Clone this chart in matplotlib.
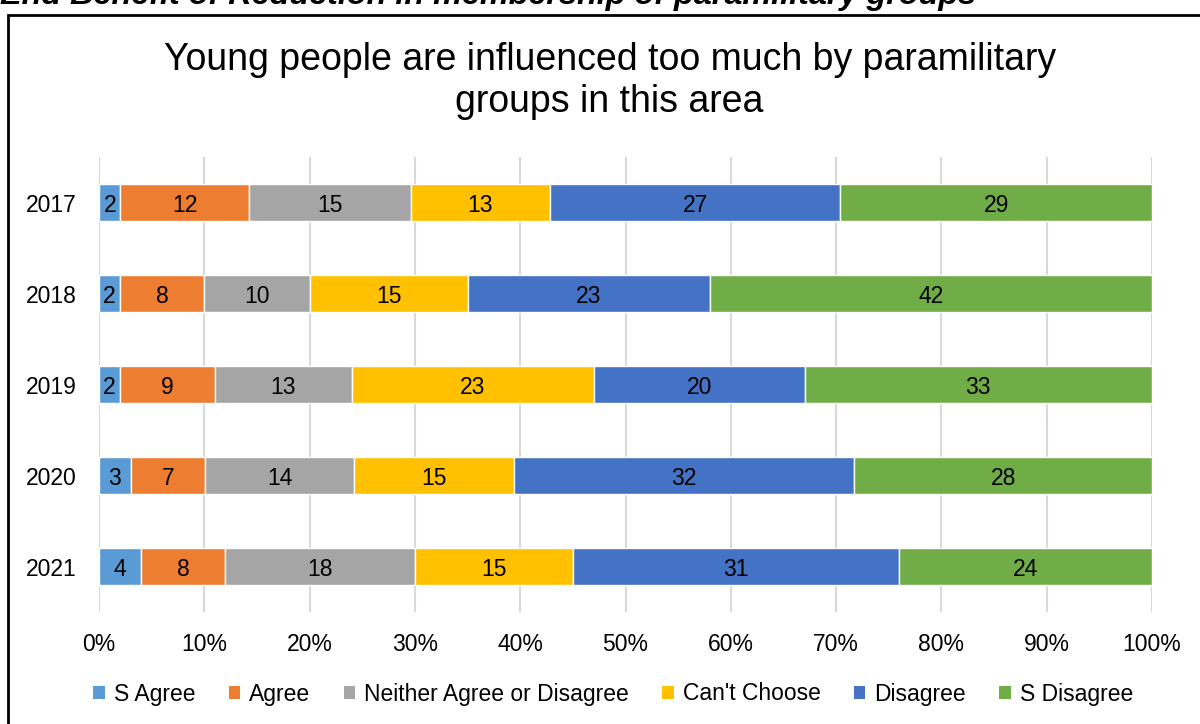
import numpy as np
import matplotlib.pyplot as plt
from matplotlib.patches import Patch, Rectangle

plt.rcParams['font.family'] = ['Liberation Sans', 'DejaVu Sans']

years = ['2017', '2018', '2019', '2020', '2021']
categories = ['S Agree', 'Agree', 'Neither Agree or Disagree', "Can't Choose", 'Disagree', 'S Disagree']
colors = ['#5B9BD5', '#ED7D31', '#A5A5A5', '#FFC000', '#4472C4', '#70AD47']

s_agree = [2, 2, 2, 3, 4]
agree = [12, 8, 9, 7, 8]
neither = [15, 10, 13, 14, 18]
cant_choose = [13, 15, 23, 15, 15]
disagree = [27, 23, 20, 32, 31]
s_disagree = [29, 42, 33, 28, 24]

series = [s_agree, agree, neither, cant_choose, disagree, s_disagree]
vals = np.array(series, dtype=float)
totals = vals.sum(axis=0)
shares = vals / totals

fig = plt.figure(figsize=(12, 7.24), dpi=100)
ax = fig.add_axes([0.0825, 0.1547, 0.8775, 0.6284])

y = np.arange(len(years))
left = np.zeros(len(years))
for i, cat in enumerate(categories):
    ax.barh(y, shares[i], left=left, height=0.4, color=colors[i],
            edgecolor='white', linewidth=1, label=cat, zorder=3)
    for j in range(len(years)):
        ax.text(left[j] + shares[i][j] / 2, y[j], str(series[i][j]),
                ha='center', va='center_baseline', fontsize=16.5, color='black', zorder=4)
    left += shares[i]

ax.set_xlim(0, 1)
ax.set_ylim(len(years) - 0.5, -0.5)
ax.set_xticks(np.arange(0, 1.01, 0.1))
ax.set_xticklabels([f'{int(round(t * 100))}%' for t in np.arange(0, 1.01, 0.1)], fontsize=16.5)
ax.set_yticks(y)
ax.set_yticklabels(years, fontsize=16.5)
ax.tick_params(axis='both', length=0)
ax.tick_params(axis='x', pad=15)
ax.tick_params(axis='y', pad=16)
ax.grid(axis='x', color='#D9D9D9', linewidth=1.5, zorder=0)
ax.set_axisbelow(True)
for sp in ax.spines.values():
    sp.set_visible(False)

# outer chart frame (cut by image edges)
fig.patches.append(Rectangle((8 / 1200, -0.1), 1.2, 1 - 15 / 724 + 0.1,
                             transform=fig.transFigure, fill=False,
                             edgecolor='black', linewidth=2))

fig.text(0.508, 1 - 81 / 724, 'Young people are influenced too much by paramilitary\ngroups in this area',
         ha='center', va='center', fontsize=27, linespacing=1.25)

fig.text(0.0, 1 - 4 / 724, 'End Benefit of Reduction in membership of paramilitary groups',
         ha='left', va='baseline', fontsize=23.3, fontweight='bold', fontstyle='italic')

handles = [Patch(facecolor=c, edgecolor='none') for c in colors]
fig.legend(handles, categories, loc='center', bbox_to_anchor=(0.511, 1 - 694 / 724),
           ncol=6, frameon=False, fontsize=16.5, handlelength=0.5, handleheight=0.5,
           handletextpad=0.4, columnspacing=1.45)

fig.savefig('out.png', dpi=100, facecolor='white')
